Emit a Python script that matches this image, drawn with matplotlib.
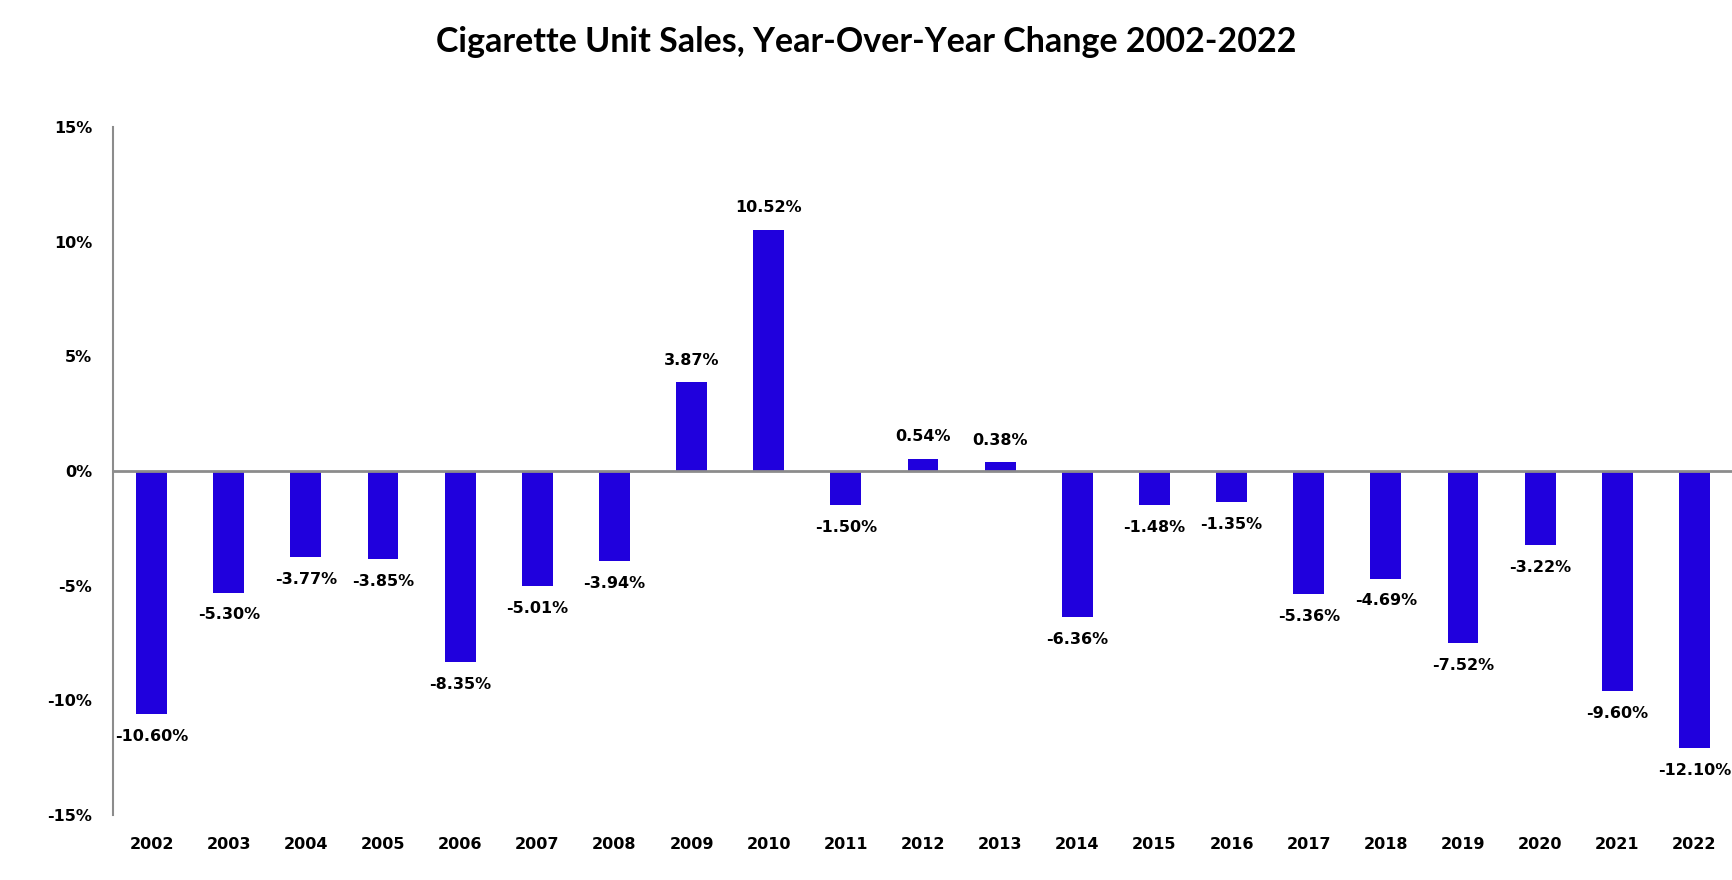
import matplotlib.pyplot as plt
import numpy as np
from matplotlib.ticker import FuncFormatter

years = ['2002', '2003', '2004', '2005', '2006', '2007', '2008', '2009', '2010', '2011',
         '2012', '2013', '2014', '2015', '2016', '2017', '2018', '2019', '2020', '2021', '2022']
change = [-10.60, -5.30, -3.77, -3.85, -8.35, -5.01, -3.94, 3.87, 10.52, -1.50,
          0.54, 0.38, -6.36, -1.48, -1.35, -5.36, -4.69, -7.52, -3.22, -9.60, -12.10]
yticks = [-15, -10, -5, 0, 5, 10, 15]

fig = plt.figure(figsize=(17.33, 8.8), dpi=100)
ax = fig.add_axes([0.0652, 0.0739, 0.9348, 0.7818])

x = np.arange(len(years))
vals = np.array(change) / 100
ax.bar(x, vals, width=0.4, color='#2000DD', zorder=2)
ax.axhline(0, color='#8c8c8c', linewidth=2, zorder=3)

for xi, v in zip(x, vals):
    off = 16 if v >= 0 else -16
    ax.annotate(f'{v*100:.2f}%', (xi, v), xytext=(0, off), textcoords='offset points',
                ha='center', va='center', fontsize=11.5, fontweight='bold')

ax.set_xlim(-0.5, len(years) - 0.5)
ax.set_ylim(-0.15, 0.15)
ax.set_yticks([t / 100 for t in yticks])
ax.yaxis.set_major_formatter(FuncFormatter(lambda v, p: f'{v*100:.0f}%'))
ax.set_xticks(x)
ax.set_xticklabels(years)
ax.tick_params(axis='both', length=0, labelsize=11.5)
ax.tick_params(axis='y', pad=15)
ax.tick_params(axis='x', pad=16)
for lab in ax.get_xticklabels() + ax.get_yticklabels():
    lab.set_fontweight('bold')

for s in ['top', 'right', 'bottom']:
    ax.spines[s].set_visible(False)
ax.spines['left'].set_color('#8c8c8c')
ax.spines['left'].set_linewidth(1.5)

fig.text(0.5, 1 - 42 / 880, 'Cigarette Unit Sales, Year-Over-Year Change 2002-2022',
         ha='center', va='center', fontsize=24.5, fontweight='bold', family='Lato')

fig.savefig('out.png', dpi=100)
